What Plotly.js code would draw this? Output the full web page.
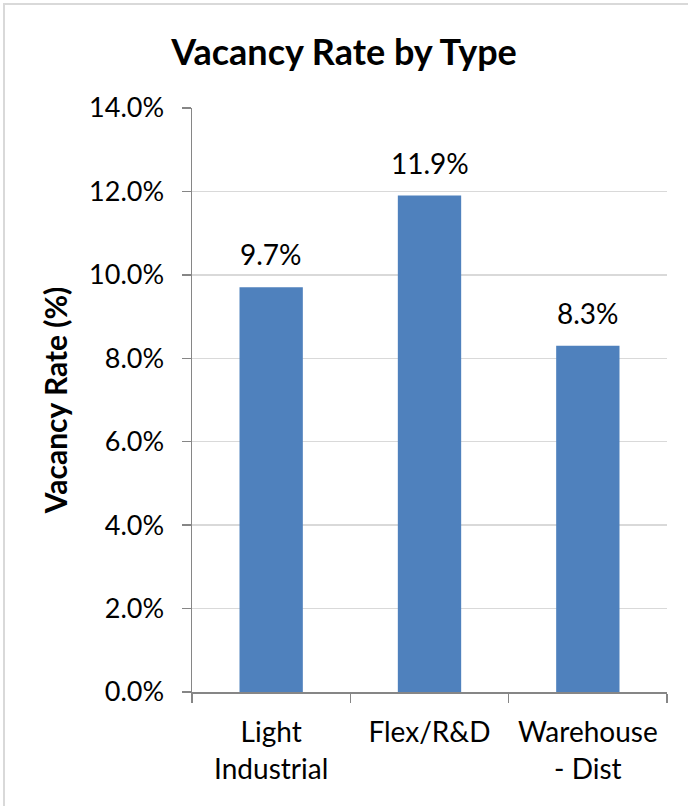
<!DOCTYPE html>
<html>
<head>
<meta charset="utf-8">
<script src="https://cdn.plot.ly/plotly-3.0.1.min.js"></script>
<style>
  html, body { margin: 0; padding: 0; background: #ffffff; }
  #wrap { position: relative; width: 688px; height: 806px; overflow: hidden; }
  #frame { position: absolute; left: 3px; top: 3px; width: 700px; height: 820px;
           border: 2px solid #d9d9d9; box-sizing: border-box; pointer-events: none; }
  #chart { width: 688px; height: 806px; }
</style>
</head>
<body>
<div id="wrap">
  <div id="chart"></div>
  <div id="frame"></div>
</div>
<script>
// Vacancy rate by property type (percent)
const categories = ['Light Industrial', 'Flex/R&D', 'Warehouse - Dist'];
const tickLabels = ['Light<br>Industrial', 'Flex/R&amp;D', 'Warehouse<br>- Dist'];
const vacancyRates = [9.7, 11.9, 8.3];
const yTicks = [0, 2, 4, 6, 8, 10, 12, 14];

const FONT = 'Lato, "Open Sans", sans-serif';
const BAR_BLUE = '#4f81bd';
const AXIS_GRAY = '#868686';

const trace = {
  type: 'bar',
  x: categories,
  y: vacancyRates,
  marker: { color: BAR_BLUE, line: { width: 0 } },
  hoverinfo: 'skip'
};

// value labels above each bar
const labels = categories.map((c, i) => ({
  x: c,
  y: vacancyRates[i],
  xref: 'x',
  yref: 'y',
  text: vacancyRates[i].toFixed(1) + '%',
  showarrow: false,
  yanchor: 'bottom',
  yshift: 14,
  font: { family: FONT, size: 28, color: '#000000' }
}));

const layout = {
  width: 688,
  height: 806,
  margin: { l: 192, r: 21, t: 108, b: 114 },
  paper_bgcolor: '#ffffff',
  plot_bgcolor: '#ffffff',
  showlegend: false,
  bargap: 0.6,
  font: { family: FONT, color: '#000000' },
  title: {
    text: '<b>Vacancy Rate by Type</b>',
    font: { family: FONT, size: 36, color: '#000000' },
    x: 0.5,
    xanchor: 'center',
    xref: 'container',
    y: 1 - 52 / 806,
    yanchor: 'middle',
    yref: 'container'
  },
  xaxis: {
    type: 'category',
    tickmode: 'array',
    tickvals: categories,
    ticktext: tickLabels,
    tickson: 'boundaries',
    ticks: 'outside',
    ticklen: 9,
    tickwidth: 1.5,
    tickcolor: AXIS_GRAY,
    showline: true,
    linecolor: AXIS_GRAY,
    linewidth: 1.5,
    showgrid: false,
    zeroline: false,
    ticklabelstandoff: 15,
    tickfont: { family: FONT, size: 28, color: '#000000' }
  },
  yaxis: {
    range: [0, 14],
    tickmode: 'array',
    tickvals: yTicks,
    ticktext: yTicks.map(v => v.toFixed(1) + '%'),
    ticks: 'outside',
    ticklen: 9,
    tickwidth: 1.5,
    tickcolor: AXIS_GRAY,
    showline: true,
    linecolor: AXIS_GRAY,
    linewidth: 1.5,
    showgrid: true,
    gridcolor: '#d9d9d9',
    gridwidth: 1.5,
    zeroline: false,
    ticklabelstandoff: 12,
    tickfont: { family: FONT, size: 27, color: '#000000' },
    title: {
      text: '<b>Vacancy Rate (%)</b>',
      font: { family: FONT, size: 30, color: '#000000' },
      standoff: 12
    }
  },
  annotations: labels
};

Plotly.newPlot('chart', [trace], layout, { displayModeBar: false, staticPlot: true });
</script>
</body>
</html>
